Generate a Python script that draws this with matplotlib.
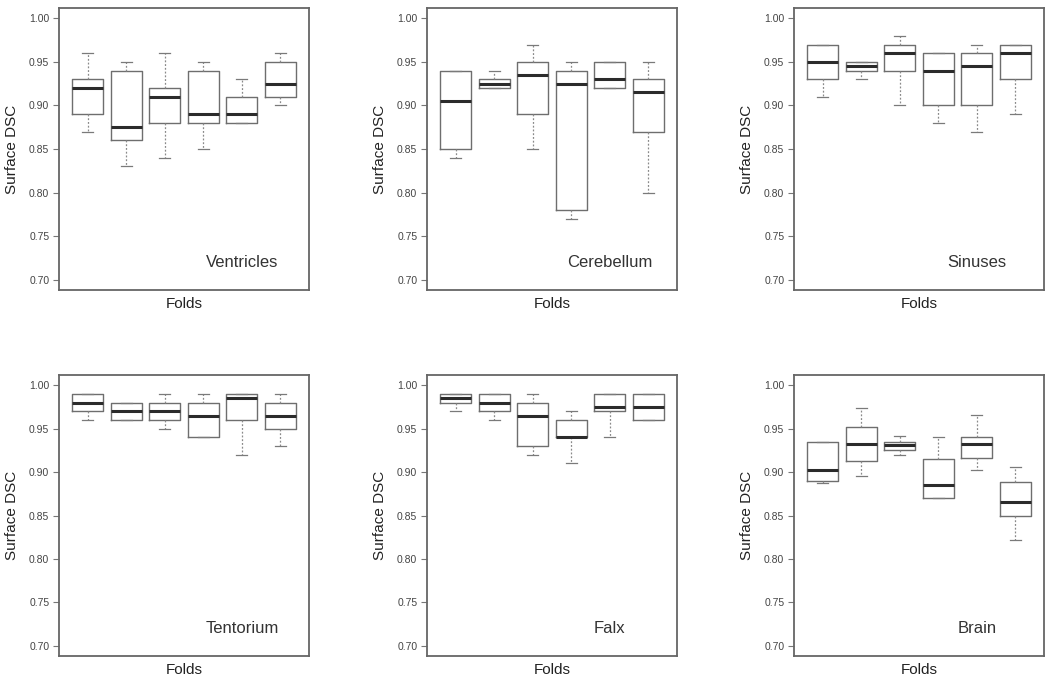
import matplotlib
matplotlib.use("Agg")
import matplotlib.pyplot as plt

plt.rcParams['font.family'] = ['Liberation Sans', 'DejaVu Sans']

# Five-number summaries per fold: [whisker low, Q1, median, Q3, whisker high]
ventricles = [[0.87, 0.89, 0.92, 0.93, 0.96],
              [0.83, 0.86, 0.875, 0.94, 0.95],
              [0.84, 0.88, 0.91, 0.92, 0.96],
              [0.85, 0.88, 0.89, 0.94, 0.95],
              [0.88, 0.88, 0.89, 0.91, 0.93],
              [0.90, 0.91, 0.925, 0.95, 0.96]]
cerebellum = [[0.84, 0.85, 0.905, 0.94, 0.94],
              [0.92, 0.92, 0.925, 0.93, 0.94],
              [0.85, 0.89, 0.935, 0.95, 0.97],
              [0.77, 0.78, 0.925, 0.94, 0.95],
              [0.92, 0.92, 0.93, 0.95, 0.95],
              [0.80, 0.87, 0.915, 0.93, 0.95]]
sinuses = [[0.91, 0.93, 0.95, 0.97, 0.97],
           [0.93, 0.94, 0.945, 0.95, 0.95],
           [0.90, 0.94, 0.96, 0.97, 0.98],
           [0.88, 0.90, 0.94, 0.96, 0.96],
           [0.87, 0.90, 0.945, 0.96, 0.97],
           [0.89, 0.93, 0.96, 0.97, 0.97]]
tentorium = [[0.96, 0.97, 0.98, 0.99, 0.99],
             [0.96, 0.96, 0.97, 0.98, 0.98],
             [0.95, 0.96, 0.97, 0.98, 0.99],
             [0.94, 0.94, 0.965, 0.98, 0.99],
             [0.92, 0.96, 0.985, 0.99, 0.99],
             [0.93, 0.95, 0.965, 0.98, 0.99]]
falx = [[0.97, 0.98, 0.985, 0.99, 0.99],
        [0.96, 0.97, 0.98, 0.99, 0.99],
        [0.92, 0.93, 0.965, 0.98, 0.99],
        [0.91, 0.94, 0.94, 0.96, 0.97],
        [0.94, 0.97, 0.975, 0.99, 0.99],
        [0.96, 0.96, 0.975, 0.99, 0.99]]
brain = [[0.888, 0.890, 0.903, 0.935, 0.935],
         [0.895, 0.913, 0.933, 0.952, 0.974],
         [0.920, 0.925, 0.931, 0.935, 0.942],
         [0.870, 0.870, 0.885, 0.915, 0.941],
         [0.902, 0.916, 0.932, 0.941, 0.966],
         [0.822, 0.849, 0.866, 0.889, 0.906]]

panel_names = ["Ventricles", "Cerebellum", "Sinuses", "Tentorium", "Falx", "Brain"]
panel_data = [ventricles, cerebellum, sinuses, tentorium, falx, brain]
y_ticks = [0.70, 0.75, 0.80, 0.85, 0.90, 0.95, 1.00]
y_tick_labels = ["0.70", "0.75", "0.80", "0.85", "0.90", "0.95", "1.00"]

fig = plt.figure(figsize=(10.5, 6.82), dpi=100)

W, H = 1050, 682
lefts = [59, 427, 794]
tops = [8, 375]
bottoms = [290, 656]
aw = 250

box_c = '#6e6e6e'
for i, (name, data) in enumerate(zip(panel_names, panel_data)):
    r, c = divmod(i, 3)
    ax = fig.add_axes([lefts[c] / W, 1 - bottoms[r] / H, aw / W, (bottoms[r] - tops[r]) / H])
    stats = [dict(whislo=d[0], q1=d[1], med=d[2], q3=d[3], whishi=d[4], fliers=[])
             for d in data]
    ax.bxp(stats, positions=range(1, len(stats) + 1), widths=0.8, capwidths=0.28,
           showfliers=False,
           boxprops=dict(color=box_c, linewidth=1.0),
           medianprops=dict(color='#2b2b2b', linewidth=2.2, solid_capstyle='butt'),
           whiskerprops=dict(color='#8a8a8a', linewidth=0.9, linestyle=(0, (1.5, 1.5))),
           capprops=dict(color='#7a7a7a', linewidth=0.9))
    ax.set_xlim(0.26, 6.74)
    ax.set_ylim(0.688, 1.012)
    ax.set_xticks([])
    ax.set_yticks(y_ticks)
    ax.set_yticklabels(y_tick_labels)
    ax.tick_params(axis='y', labelsize=7.5, length=4, width=0.8, color='#777777',
                   labelcolor='#444444', pad=3)
    for s in ax.spines.values():
        s.set_color('#666666')
        s.set_linewidth(1.3)
    ax.set_ylabel("Surface DSC", fontsize=11, color='#222222', labelpad=7)
    ax.set_xlabel("Folds", fontsize=11, color='#222222', labelpad=5)
    ax.text(5, 0.72, name, ha='center', va='center', fontsize=12, color='#333333')

fig.savefig("out.png", dpi=100)
